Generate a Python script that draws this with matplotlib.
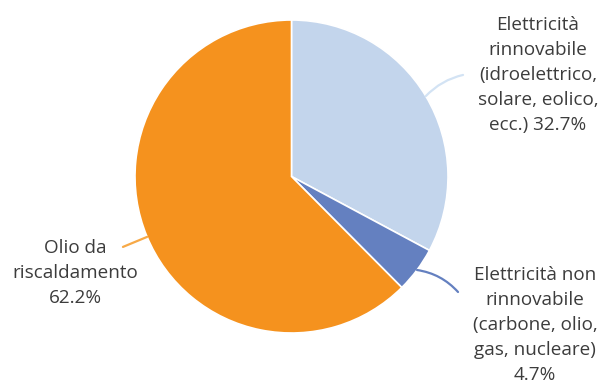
import matplotlib
matplotlib.use("Agg")
import matplotlib.pyplot as plt
import numpy as np

labels = ["Elettricità\nrinnovabile\n(idroelettrico,\nsolare, eolico,\necc.) 32.7%",
          "Elettricità non\nrinnovabile\n(carbone, olio,\ngas, nucleare)\n4.7%",
          "Olio da\nriscaldamento\n62.2%"]
shares = [32.7, 4.7, 62.2]
colors = ["#c3d5ec", "#6480c0", "#f5921e"]
line_colors = ["#d3e3f4", "#6480c0", "#f7a947"]

plt.rcParams["font.family"] = ["Open Sans", "DejaVu Sans"]

fig = plt.figure(figsize=(6.01, 3.89), dpi=100)
ax = fig.add_axes([135 / 601, 56 / 389, 313 / 601, 313 / 389])

wedges, _ = ax.pie(shares, colors=colors, startangle=90, counterclock=False,
                   wedgeprops=dict(edgecolor="white", linewidth=1.2))
ax.set_xlim(-1, 1)
ax.set_ylim(-1, 1)
ax.set_aspect("equal")
ax.axis("off")

# leader lines: start on the wedge edge, end near the label
starts = []
for w in wedges:
    mid = np.deg2rad((w.theta1 + w.theta2) / 2)
    starts.append((np.cos(mid), np.sin(mid)))
starts[2] = (np.cos(np.deg2rad(-157.3)), np.sin(np.deg2rad(-157.3)))
ends = [(1.096, 0.649), (1.064, -0.738), (-1.077, -0.450)]
rads = [0.15, 0.18, 0.0]
for s, e, c, r in zip(starts, ends, line_colors, rads):
    ax.annotate("", xy=s, xytext=e, annotation_clip=False,
                arrowprops=dict(arrowstyle="-", color=c, lw=1.6,
                                connectionstyle=f"arc3,rad={r}",
                                shrinkA=0, shrinkB=0))

text_pos = [(0.895, 0.807), (0.890, 0.165), (0.125, 0.297)]
for lab, (x, y) in zip(labels, text_pos):
    fig.text(x, y, lab, ha="center", va="center", multialignment="center",
             fontsize=13.6, color="#3c3c3c", linespacing=1.5)

fig.savefig("out.png", dpi=100, facecolor="white")
